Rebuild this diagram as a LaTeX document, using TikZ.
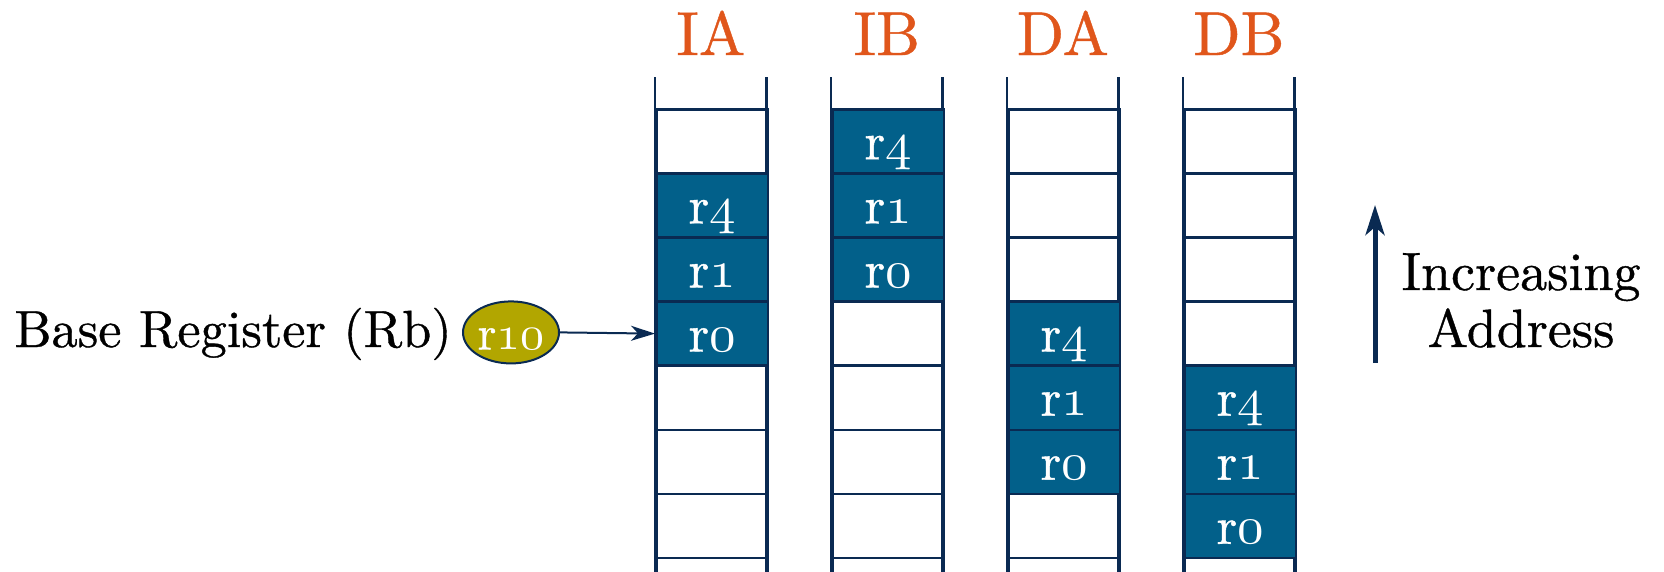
\documentclass[tikz,border=0pt]{standalone}
\usetikzlibrary{arrows.meta,shapes.geometric}

\definecolor{framenavy}{HTML}{0A2A52}
\definecolor{cellblue}{HTML}{02608A}
\definecolor{regolive}{HTML}{B2A600}
\definecolor{modeorange}{HTML}{E0561B}

% Latin Modern in its 10pt design at every size, slightly heavier
\DeclareFontFamily{TU}{lmten}{}
\DeclareFontShape{TU}{lmten}{m}{n}{<-> "[lmroman10-regular]:+tlig;embolden=0.7"}{}
% old-style figures from the Computer Modern math italic, scalable
\DeclareFontFamily{OML}{osfig}{}
\DeclareFontShape{OML}{osfig}{m}{it}{<-> cmmi10}{}
\newcommand{\osdigits}[1]{{\usefont{OML}{osfig}{m}{it}#1}}
\newcommand{\sz}[1]{\fontfamily{lmten}\fontsize{#1}{#1}\selectfont}

\begin{document}
\begin{tikzpicture}[x=1pt,y=-1pt,
  frame/.style={draw=framenavy, line width=2.5pt},
  slot/.style={frame, minimum width=111.7pt, minimum height=64.1pt,
    inner xsep=0pt, inner ysep=0pt, text height=50pt, text depth=14.1pt,
    anchor=north west, font=\sz{53}},
  held/.style={slot, fill=cellblue, text=white},
  mode/.style={text=modeorange, anchor=base, font=\sz{62}},
  caption/.style={anchor=base, font=\sz{54}},
]
\useasboundingbox (0,0) rectangle (1664,571);

% four stack columns: name, left edge, first occupied row, heading
\foreach \c/\x/\f/\t in {ia/655/1/IA, ib/831/0/IB, da/1007/3/DA, db/1183/4/DB} {
  \draw[frame] (\x,77) -- (\x,575) (\x+111.7,77) -- (\x+111.7,575);
  \node[mode] (\c-head) at (\x+55.85,55) {\t};
  \foreach \r in {0,...,7} {
    \pgfmathtruncatemacro\k{\r-\f}
    \ifcase\k \def\reg{4}\or \def\reg{1}\or \def\reg{0}\else \def\reg{}\fi
    \ifx\reg\empty
      \node[slot] (\c-\r) at (\x,108+\r*64.1) {};
    \else
      \node[held] (\c-\r) at (\x,108+\r*64.1) {r\osdigits{\reg}};
    \fi
  }
}

% base register
\node[caption, anchor=base west, font=\sz{52.3}] (rblabel) at (11,347) {Base Register (Rb)};
\node[ellipse, draw=framenavy, line width=2pt, fill=regolive, text=white,
  minimum width=96pt, minimum height=62pt, inner sep=0pt,
  text height=34pt, text depth=0pt, font=\sz{48}]
  (rb) at (511,332.4) {r\osdigits{10}};
\draw[draw=framenavy, line width=2pt,
  -{Stealth[length=24pt, width=15pt, inset=7pt]}] (rb.east) -- (ia-3.west);

% direction of growth
\coordinate (uplo) at (1375,363);
\coordinate (uphi) at (1375,205);
\draw[draw=framenavy, line width=5pt,
  -{Stealth[length=30pt, width=19pt, inset=8pt]}] (uplo) -- (uphi);
\node[caption] (incr) at (1521,290) {Increasing};
\node[caption] (addr) at (1521,347) {Address};
\end{tikzpicture}
\end{document}
